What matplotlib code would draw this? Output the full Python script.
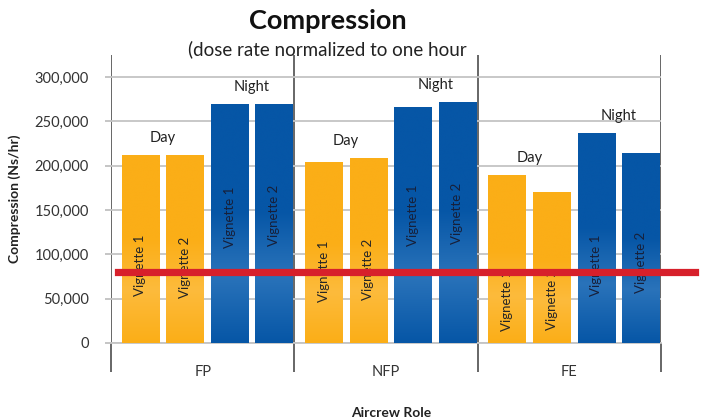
import numpy as np
import matplotlib.pyplot as plt
from matplotlib.colors import LinearSegmentedColormap

plt.rcParams['font.family'] = ['Lato', 'DejaVu Sans']

# ---- data ----
roles = ["FP", "NFP", "FE"]
series_names = ["Vignette 1", "Vignette 2", "Vignette 1", "Vignette 2"]
shift_names = ["Day", "Night"]
day_v1 = [212000, 204500, 189500]
day_v2 = [212000, 209000, 170500]
night_v1 = [269500, 265800, 237200]
night_v2 = [269500, 272100, 214600]
y_ticks = [0, 50000, 100000, 150000, 200000, 250000, 300000]
threshold = 80600

# ---- layout ----
# vertical centre of each in-bar label (data units), per role, per bar
inbar_label_y = [
    [88000, 85700, 142000, 144400],
    [80400, 82900, 144400, 146600],
    [48500, 49600, 88000, 91400],
]
bar_w = 0.203
bar_step = 0.243
bar_shift = 0.025

ORANGE_TOP = "#FBAE17"
ORANGE_MID = "#FDBB3C"
BLUE_TOP = "#0656A6"
BLUE_MID = "#2A73BA"

fig = plt.figure(figsize=(7.02, 4.18), dpi=100)
ax = fig.add_axes([111 / 702, 1 - 343 / 418, 550 / 702, 288 / 418])
ax.set_xlim(-0.5, 2.5)
ax.set_ylim(0, 325000)

series = [day_v1, day_v2, night_v1, night_v2]
grad_y = np.linspace(0, 1, 256)


def gradient_cmap(top, mid):
    return LinearSegmentedColormap.from_list(
        "g", [(0.0, top), (0.28, mid), (0.55, top), (1.0, top)])


cmaps = [gradient_cmap(ORANGE_TOP, ORANGE_MID), gradient_cmap(ORANGE_TOP, ORANGE_MID),
         gradient_cmap(BLUE_TOP, BLUE_MID), gradient_cmap(BLUE_TOP, BLUE_MID)]
solid = [ORANGE_TOP, ORANGE_TOP, BLUE_TOP, BLUE_TOP]
text_colors = ["#262626", "#262626", "#17203a", "#17203a"]

x = np.arange(len(roles))
for j, vals in enumerate(series):
    xs = x + (j - 1.5) * bar_step + bar_shift
    bars = ax.bar(xs, vals, width=bar_w, color=solid[j], edgecolor="none", zorder=3)
    for k, b in enumerate(bars):
        x0, w, h = b.get_x(), b.get_width(), b.get_height()
        img = ax.imshow(grad_y[:, None], cmap=cmaps[j], aspect="auto",
                        extent=[x0, x0 + w, 0, h], origin="lower",
                        zorder=3.5, interpolation="bicubic")
        img.set_clip_path(b)
        ax.text(xs[k], inbar_label_y[k][j], series_names[j], rotation=90,
                ha="center", va="center", fontsize=9.5, color=text_colors[j],
                zorder=5)

# Day / Night labels above each pair
for k in range(len(roles)):
    for s, (a, b) in enumerate([(day_v1, day_v2), (night_v1, night_v2)]):
        cx = x[k] + (2 * s - 1) * bar_step + bar_shift
        top = max(a[k], b[k])
        ax.annotate(shift_names[s], (cx, top), xytext=(0, 7),
                    textcoords="offset points", ha="center", va="bottom",
                    fontsize=10.5, color="#222222", zorder=5)

# horizontal reference line
ax.axhline(threshold, xmin=(118 - 111) / 550, xmax=(695 - 111) / 550,
           color="#D7202B", lw=5.2, clip_on=False, zorder=6)

# grid and axes
ax.set_yticks(y_ticks)
ax.set_yticklabels([f"{v:,}" for v in y_ticks], fontsize=10.5, color="#333333")
ax.yaxis.grid(True, color="#c4c4c4", lw=1.3, zorder=0)
ax.tick_params(axis="y", length=4, color="#bbbbbb", width=1.2, pad=12)

boundaries = [-0.5, 0.5, 1.5, 2.5]
ax.set_xticks(boundaries)
ax.set_xticklabels([])
ax.tick_params(axis="x", which="major", length=21, width=1.4, color="#666666")
ax.set_xticks(x, minor=True)
ax.set_xticklabels(roles, minor=True, fontsize=10.5, color="#333333")
ax.tick_params(axis="x", which="minor", length=0, pad=16)
for bx in boundaries:
    ax.axvline(bx, color="#666666", lw=1.4, zorder=1)

for side in ["top", "right", "left"]:
    ax.spines[side].set_visible(False)
ax.spines["bottom"].set_color("#c4c4c4")
ax.spines["bottom"].set_linewidth(1.3)

ax.set_ylabel("Compression (Ns/hr)", fontsize=10, fontweight="bold",
              color="#222222")
ax.yaxis.set_label_coords(-(111 - 21) / 550, 0.5)
ax.set_xlabel("Aircrew Role", fontsize=10, fontweight="bold", color="#222222")
ax.xaxis.set_label_coords((391 - 111) / 550, -(407 - 343) / 288)

fig.text(328 / 702, 1 - 21 / 418, "Compression", ha="center", va="center",
         fontsize=19.5, fontweight="bold", color="#111111")
fig.text(327 / 702, 1 - 49 / 418, "(dose rate normalized to one hour", ha="center",
         va="center", fontsize=13.5, color="#222222")

fig.savefig("out.png", dpi=100)
